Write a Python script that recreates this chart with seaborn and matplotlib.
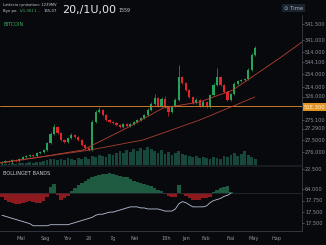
import matplotlib
matplotlib.use("Agg")
import matplotlib.pyplot as plt
from matplotlib.lines import Line2D
import seaborn as sns
import numpy as np
import pandas as pd

sns.set_theme(style="dark")
plt.rcParams['font.family'] = ['DejaVu Sans']

# ---------------- data ----------------
opens = [7, 8, 9, 8, 10, 9, 11, 13, 14, 15, 14, 17, 18, 20, 27, 36, 43, 37, 30, 28,
         32, 35, 33, 30, 25, 22, 20, 48, 58, 60, 55, 50, 48, 47, 45, 43, 46, 44, 46, 48,
         50, 52, 55, 60, 66, 72, 64, 71, 63, 58, 64, 70, 93, 87, 80, 73, 67, 70, 64, 68,
         63, 75, 85, 93, 85, 78, 70, 76, 86, 89, 90, 91, 100, 115]
closes = [8, 9, 8, 10, 9, 11, 13, 14, 15, 14, 17, 18, 20, 27, 36, 43, 37, 30, 28, 32,
          35, 33, 30, 25, 22, 20, 48, 58, 60, 55, 50, 48, 47, 45, 43, 46, 44, 46, 48, 50,
          52, 55, 60, 66, 72, 64, 71, 63, 58, 64, 70, 93, 87, 80, 73, 67, 70, 64, 68, 63,
          75, 85, 93, 85, 78, 70, 76, 86, 89, 90, 91, 100, 115, 122]
highs = [9, 10, 10, 11, 11, 12, 14, 15, 16, 16, 18, 19, 21, 28, 38, 46, 44, 38, 31, 33,
         37, 36, 34, 31, 26, 23, 50, 60, 63, 61, 56, 51, 49, 48, 46, 47, 47, 47, 49, 51,
         53, 56, 62, 68, 76, 73, 73, 74, 64, 65, 72, 105, 94, 88, 81, 74, 72, 71, 70, 69,
         76, 87, 102, 94, 86, 79, 77, 88, 90, 91, 92, 102, 117, 124]
lows = [6, 7, 7, 7, 8, 8, 10, 12, 13, 13, 13, 16, 17, 19, 26, 35, 36, 29, 27, 27,
        31, 32, 29, 24, 21, 19, 19, 47, 57, 54, 49, 47, 46, 44, 42, 42, 43, 43, 45, 47,
        49, 51, 54, 59, 65, 63, 63, 62, 54, 57, 63, 69, 86, 79, 72, 66, 66, 63, 63, 62,
        62, 74, 84, 84, 77, 69, 69, 75, 85, 88, 89, 90, 99, 114]
volumes = [1, 1, 1, 2, 1, 2, 2, 2, 3, 2, 3, 3, 4,
           5, 6, 6, 5, 6, 5, 7, 6, 5, 7, 6, 8, 6,
           9, 8, 10, 9, 8, 11, 10, 12, 14, 12, 15, 13, 16, 14, 17,
           15, 18, 16, 14, 12, 15, 11, 13, 10, 12, 14, 11, 10, 9, 8,
           9, 7, 8, 7, 6, 8, 7, 6, 9, 8, 10, 12, 9, 11, 14, 10, 8, 6]

upper_curve_x = [-0.6, 11, 23.3, 36, 46.4, 57, 66.6, 80.1, 86.5]
upper_curve_y = [7, 13, 20, 42, 62, 68, 80, 112, 128]
lower_curve_x = [-0.6, 5.2, 25.4, 40.6, 46.4, 57, 72.9]
lower_curve_y = [7, 10, 20, 30, 37, 50, 73]
support_level = 64.5

band_hist = [-4, -6, -8, -9, -10, -10, -9, -8, -7, -8, -9, -9, -7, -4, 6, 9, -2, -6, -5, -3,
             2, 5, 8, 10, 12, 14, 15, 16, 17, 18, 18, 19, 18, 17, 16, 15, 15, 14, 12, 11,
             10, 9, 8, 7, 5, 3, 2, -1, -3, -4, -4, 8, -1, -3, -5, -6, -6, -6, -5, -5,
             -4, 1, 3, 5, 6, 7, 1]
band_line = [-21, -22, -23, -24, -25, -26, -27, -28, -29, -31, -31, -31, -31, -31, -30, -30, -30, -30, -30, -30,
             -29, -28, -27, -26, -25, -24, -23, -21, -20, -20, -19, -18, -18, -17, -16, -15, -14, -13, -13, -13,
             -14, -14, -15, -15, -15, -15, -16, -17, -17, -17, -15, -10, -8, -9, -11, -13, -13, -13, -13, -12,
             -9, -7, -6, -5, -3, -2, 0]

price_tick_px = [24, 40, 52, 62, 74, 87, 97, 120, 129, 140, 152]
price_tick_labels = ["541.500", "341.000", "514.000", "544.100", "254.000", "214.000",
                     "326.000", "275.100", "27.2900", "27.5000", "276.000"]
level_label = "51E.300"
band_tick_px = [169, 189, 201, 212, 223]
band_tick_labels = ["22.500", "64.000", "17.750", "17.500", "17.500"]
month_px = [21, 45, 67, 89, 113, 135, 166, 186, 206, 231, 254, 276]
month_labels = ["Mal", "Sag", "Yov", "26", "7g", "Nel", "18h", "Jan", "Fab", "Fial", "May", "Hap"]

# ---------------- layout ----------------
W, H = 326, 245
BG = "#08090d"
GREEN = "#25a35a"
RED = "#e0262a"
fig = plt.figure(figsize=(W / 100, H / 100), dpi=100)
fig.patch.set_facecolor(BG)


def px_ax(x0, y0, x1, y1):
    a = fig.add_axes([x0 / W, 1 - y1 / H, (x1 - x0) / W, (y1 - y0) / H])
    a.set_facecolor("none")
    for s in a.spines.values():
        s.set_visible(False)
    a.set_xticks([])
    a.set_yticks([])
    a.grid(False)
    return a


def ftext(x, y, s, **kw):
    kw.setdefault("va", "center")
    return fig.text(x / W, 1 - y / H, s, **kw)


def fline(x0, y0, x1, y1, **kw):
    fig.add_artist(Line2D([x0 / W, x1 / W], [1 - y0 / H, 1 - y1 / H], **kw))


XL = (-0.58, 86.5)
idx = np.arange(len(closes))

# volume
axv = px_ax(0, 135, 302, 165)
axv.set_xlim(*XL)
axv.set_ylim(0, 30)
axv.bar(idx, volumes, width=0.8, color="#17463a", linewidth=0)

# main candles
ax = px_ax(0, 15, 302, 165)
ax.set_xlim(*XL)
ax.set_ylim(5, 155)
df = pd.DataFrame({"i": idx, "o": opens, "c": closes, "h": highs, "l": lows})
cols = [GREEN if c >= o else RED for o, c in zip(df.o, df.c)]
ax.vlines(df.i, df.l, df.h, colors=cols, linewidth=0.5)
body_lo = np.minimum(df.o, df.c)
body_h = np.maximum(np.abs(df.c - df.o), 0.6)
ax.bar(df.i, body_h, bottom=body_lo, width=0.62, color=cols, linewidth=0)

ax.axhline(support_level, color="#c9782c", lw=0.7)
sns.lineplot(x=upper_curve_x, y=upper_curve_y, ax=ax, color="#b8402f", lw=0.6, sort=False)
sns.lineplot(x=lower_curve_x, y=lower_curve_y, ax=ax, color="#a8402f", lw=0.6, sort=False)
ax.set_xlim(*XL)
ax.set_ylim(5, 155)
ax.set_xticks([]); ax.set_yticks([])

# lower panel
axb = px_ax(0, 167, 302, 231)
axb.set_xlim(*XL)
axb.set_ylim(-36, 25)
hi = np.arange(len(band_hist))
hv = np.array(band_hist)
axb.bar(hi, hv, width=1.0, color=np.where(hv >= 0, "#1d5a40", "#8c1a1f"), linewidth=0)
axb.axhline(0, color="#2a2d36", lw=0.5)
sns.lineplot(x=np.arange(len(band_line)), y=band_line, ax=axb, color="#b7c2d6", lw=0.6)
axb.set_xlim(*XL)
axb.set_ylim(-36, 25)
axb.set_xticks([]); axb.set_yticks([])

# frame lines
fline(302, 15, 302, 231, color="#3a3d46", lw=0.6)
fline(0, 166, 302, 166, color="#1c1f27", lw=1.2)
fline(0, 231, 302, 231, color="#3a3d46", lw=0.6)

# right axis labels
for y, s in zip(price_tick_px, price_tick_labels):
    fline(302, y, 304, y, color="#555a66", lw=0.5)
    ftext(305, y, s, color="#8b909b", fontsize=3.6)
ftext(304, 107, level_label, color="#fff3da", fontsize=3.8,
      bbox=dict(boxstyle="square,pad=0.25", fc="#e3931f", ec="none"))
for y, s in zip(band_tick_px, band_tick_labels):
    fline(302, y, 304, y, color="#555a66", lw=0.5)
    ftext(305, y, s, color="#8b909b", fontsize=3.6)
for x, s in zip(month_px, month_labels):
    ftext(x, 238, s, color="#8b909b", fontsize=3.6, ha="center")

# header
ftext(3, 5, "Lattecia rynination: 1239MV", color="#c9ccd3", fontsize=2.7)
ftext(3, 11, "Bye po.", color="#c9ccd3", fontsize=2.8)
ftext(20, 11, "IV1.0811...", color="#3fa95e", fontsize=2.8)
ftext(44, 11, "155,07", color="#c9ccd3", fontsize=2.8)
ftext(62, 10, "20,/1U,00", color="#e6e8ec", fontsize=8.0)
ftext(118, 11, "1559", color="#c9ccd3", fontsize=3.4)
ftext(3, 24, "BITCOIN", color="#3fa95e", fontsize=3.6)
ftext(3, 173, "BOLLINGET BANDS", color="#c9ccd3", fontsize=3.6)
ftext(284, 8, "\u2299 Time", color="#a9b1bf", fontsize=3.8,
      bbox=dict(boxstyle="square,pad=0.35", fc="#1b2331", ec="none"))

fig.savefig("out.png", dpi=100, facecolor=BG)
